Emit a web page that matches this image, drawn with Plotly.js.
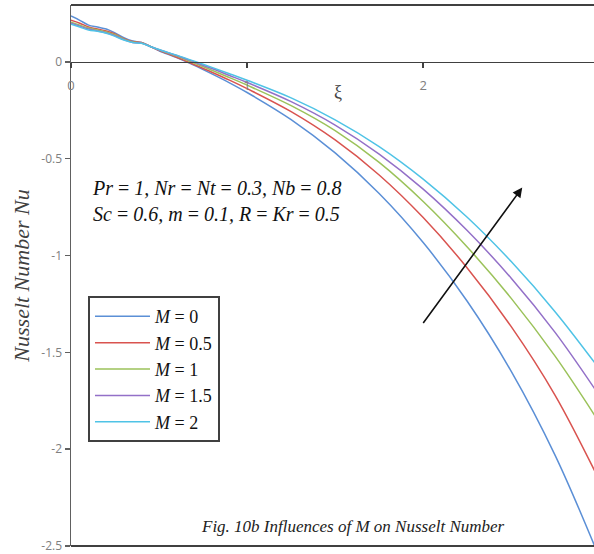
<!DOCTYPE html>
<html>
<head>
<meta charset="utf-8">
<script src="https://cdn.plot.ly/plotly-3.0.1.min.js"></script>
<style>html,body{margin:0;padding:0;background:#fff;}#chart{width:594px;height:554px;}</style>
</head>
<body>
<div id="chart"></div>
<script>
const xi = [0, 0.05, 0.1, 0.15, 0.2, 0.25, 0.3, 0.35, 0.4, 0.45, 0.5, 0.6, 0.7, 0.8, 0.9, 1.0, 1.25, 1.5, 1.75, 2.0, 2.25, 2.5, 2.75, 3.0];
const nuM0   = [0.237, 0.215, 0.19, 0.18, 0.17, 0.15, 0.125, 0.108, 0.10, 0.08, 0.058, 0.022, -0.018, -0.062, -0.108, -0.158, -0.298, -0.470, -0.680, -0.933, -1.236, -1.598, -2.033, -2.558];
const nuM05  = [0.215, 0.20, 0.18, 0.17, 0.16, 0.145, 0.12, 0.105, 0.10, 0.08, 0.06, 0.024, -0.014, -0.053, -0.094, -0.138, -0.257, -0.403, -0.584, -0.804, -1.064, -1.367, -1.723, -2.160];
const nuM1   = [0.205, 0.19, 0.175, 0.165, 0.155, 0.14, 0.118, 0.103, 0.098, 0.08, 0.062, 0.03, -0.006, -0.043, -0.081, -0.12, -0.226, -0.355, -0.519, -0.721, -0.956, -1.221, -1.521, -1.862];
const nuM15  = [0.20, 0.185, 0.17, 0.16, 0.15, 0.135, 0.115, 0.10, 0.097, 0.08, 0.063, 0.033, 0.0, -0.034, -0.07, -0.106, -0.205, -0.326, -0.476, -0.657, -0.871, -1.117, -1.398, -1.723];
const nuM2   = [0.195, 0.18, 0.165, 0.158, 0.148, 0.132, 0.113, 0.10, 0.096, 0.08, 0.064, 0.035, 0.004, -0.028, -0.061, -0.095, -0.186, -0.299, -0.437, -0.605, -0.802, -1.031, -1.291, -1.585];
const seriesNames = ['<i>M</i> = 0', '<i>M</i> = 0.5', '<i>M</i> = 1', '<i>M</i> = 1.5', '<i>M</i> = 2'];
const seriesData = [nuM0, nuM05, nuM1, nuM15, nuM2];
const colors = ['#5b8fd6', '#d9534f', '#9bc25a', '#9370c8', '#4fc3e6'];
const yTicks = [-2.5, -2, -1.5, -1, -0.5, 0];
const yTickText = ['-2.5', '-2', '-1.5', '-1', '-0.5', '0'];
const xTicks = [0, 1, 2];

const traces = seriesData.map((d, i) => ({
  x: xi, y: d, type: 'scatter', mode: 'lines', name: seriesNames[i],
  line: {color: colors[i], width: 1.5, shape: 'spline', smoothing: 1},
  legendgroup: 'g' + i
}));

const yMin = -2.5, yMax = 0.294;
const layout = {
  width: 594, height: 554,
  margin: {l: 71, r: 0, t: 5, b: 8},
  paper_bgcolor: '#fff', plot_bgcolor: '#fff',
  showlegend: true,
  legend: {
    x: 0.0325, y: 0.462, xanchor: 'left', yanchor: 'top',
    bordercolor: '#404040', borderwidth: 2, bgcolor: '#fff',
    font: {family: 'Liberation Serif', size: 18, color: '#111'},
    itemwidth: 55,
    tracegroupgap: 2, traceorder: 'normal'
  },
  xaxis: {
    range: [0, 2.97], anchor: 'free', position: (0 - yMin) / (yMax - yMin), side: 'bottom',
    showline: true, linecolor: '#404040', linewidth: 1.5,
    ticks: 'outside', ticklen: 5, tickcolor: '#404040', tickwidth: 1.5,
    tickvals: xTicks, ticktext: xTicks.map(String),
    ticklabelstandoff: 6,
    tickfont: {family: 'Open Sans', size: 13, color: '#808080'},
    showgrid: false, zeroline: false
  },
  yaxis: {
    range: [yMin, yMax],
    showline: true, linecolor: '#606060', linewidth: 1.5,
    ticks: 'outside', ticklen: 5, tickcolor: '#606060', tickwidth: 1.5,
    tickvals: yTicks, ticktext: yTickText,
    ticklabeloverflow: 'allow',
    tickfont: {family: 'Open Sans', size: 12, color: '#808080'},
    showgrid: false, zeroline: false,
    title: {text: '<i>Nusselt Number Nu</i>', font: {family: 'Liberation Serif', size: 22, color: '#404040'}, standoff: 5}
  },
  shapes: [
    {type: 'line', xref: 'paper', yref: 'paper', x0: 0, x1: 1, y0: 1, y1: 1, line: {color: '#404040', width: 2}},
    {type: 'line', xref: 'paper', yref: 'paper', x0: 0, x1: 1, y0: 0, y1: 0, line: {color: '#404040', width: 2}}
  ],
  annotations: [
    {xref: 'paper', yref: 'y', x: 0.51, y: -0.155, text: 'ξ', showarrow: false, font: {family: 'Liberation Serif', size: 18, color: '#444'}},
    {xref: 'paper', yref: 'paper', x: 0.037, y: 0.638, xanchor: 'left', yanchor: 'middle', align: 'left', showarrow: false,
     text: '<i>Pr</i> = <i>1, Nr</i> = <i>Nt</i> = <i>0.3, Nb</i> = <i>0.8</i><br><i>Sc</i> = <i>0.6, m</i> = <i>0.1, R</i> = <i>Kr</i> = <i>0.5</i>',
     font: {family: 'Liberation Serif', size: 20, color: '#111'}},
    {xref: 'paper', yref: 'paper', x: 0.539, y: 0.036, xanchor: 'center', yanchor: 'middle', showarrow: false,
     text: '<i>Fig. 10b Influences of M on Nusselt Number</i>',
     font: {family: 'Liberation Serif', size: 17, color: '#222'}},
    {xref: 'x', yref: 'y', axref: 'x', ayref: 'y', x: 2.5625, y: -0.649, ax: 1.994, ay: -1.356,
     text: '', showarrow: true, arrowhead: 2, arrowsize: 1.2, arrowwidth: 1.6, arrowcolor: '#111'}
  ]
};
Plotly.newPlot('chart', traces, layout, {displayModeBar: false, staticPlot: true});
</script>
</body>
</html>
